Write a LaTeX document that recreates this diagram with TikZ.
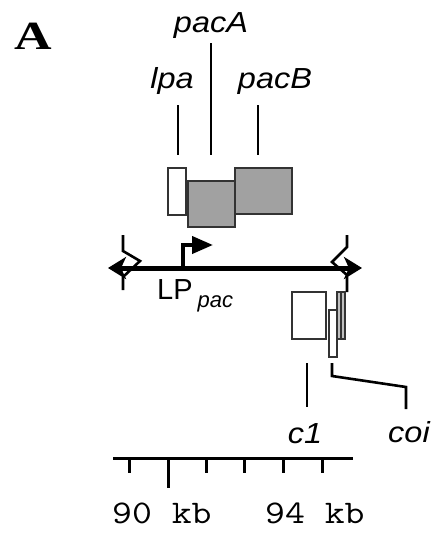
\documentclass[tikz,border=0pt]{standalone}
\usepackage{fontspec}
\setmainfont{Liberation Sans}
\newfontfamily\timesf{Liberation Serif}
\usetikzlibrary{arrows.meta}
\tikzset{bigtip/.tip={Stealth[length=18pt,width=22pt,inset=5pt]}}
\begin{document}
\begin{tikzpicture}[x=1pt,y=-1pt,
  genebox/.style={draw=black!80, line width=1.6pt, inner sep=0pt, minimum width=#1},
  whitebox/.style={genebox=#1, fill=white},
  graybox/.style={genebox=#1, fill=black!37},
  lightbox/.style={genebox=#1, fill=black!25},
  lead/.style={line width=2.6pt},
  brk/.style={line width=2.6pt, line join=miter},
  lbl/.style={font=\fontsize{29}{30}\selectfont\itshape, inner sep=0pt, anchor=base, xscale=1.12},
  scl/.style={font=\ttfamily\fontsize{33}{34}\selectfont, inner sep=0pt, anchor=base west, xscale=1.17},
]
\useasboundingbox (0,0) rectangle (432,533);

% panel letter
\node[font=\timesf\bfseries\fontsize{40}{42}\selectfont, inner sep=0pt, anchor=base, xscale=1.3] (A) at (33,49) {A};

% gene labels and leaders
\node[lbl] (pacA) at (211,32) {pacA};
\node[lbl] (lpa) at (172,88) {lpa};
\node[lbl] (pacB) at (275,88) {pacB};
\coordinate (pacAt) at (211,43);  \coordinate (pacAb) at (211,155);
\coordinate (lpat) at (178,105);  \coordinate (lpab) at (178,155);
\coordinate (pacBt) at (258,105); \coordinate (pacBb) at (258,155);
\draw[lead] (pacAt) -- (pacAb);
\draw[lead] (lpat) -- (lpab);
\draw[lead] (pacBt) -- (pacBb);

% gene boxes
\node[whitebox=18pt, minimum height=47pt] (lpabox) at (177,191.5) {};
\node[graybox=47pt, minimum height=46pt] (pacAbox) at (211.5,204) {};
\node[graybox=57pt, minimum height=46pt] (pacBbox) at (263.5,191) {};

% break marks
\coordinate (bl1) at (123,235); \coordinate (bl2) at (123,251); \coordinate (bl3) at (140,261);
\coordinate (bl4) at (123,277); \coordinate (bl5) at (123,290);
\draw[brk] (bl1) -- (bl2) -- (bl3) -- (bl4) -- (bl5);
\coordinate (br1) at (347,235); \coordinate (br2) at (347,247); \coordinate (br3) at (332,262);
\coordinate (br4) at (347,275); \coordinate (br5) at (347,292);
\draw[brk] (br1) -- (br2) -- (br3) -- (br4) -- (br5);

% main line
\coordinate (mainL) at (108,268);
\coordinate (mainR) at (362,268);
\draw[line width=5pt, {bigtip}-{bigtip}] (mainL) -- (mainR);

% promoter
\coordinate (p0) at (183,268); \coordinate (p1) at (183,245); \coordinate (p2) at (213,245);
\draw[line width=4pt, -{Triangle[length=21pt,width=17pt]}] (p0) -- (p1) -- (p2);
\node[font=\fontsize{29}{30}\selectfont, inner sep=0pt, anchor=base west] (LP) at (157,299)
  {LP\hspace{5pt}\raisebox{-8pt}{\fontsize{22}{23}\selectfont\itshape pac}};

% right-side boxes
\node[whitebox=34pt, minimum height=47pt] (c1box) at (309,315.5) {};
\node[whitebox=8pt, minimum height=47pt] (coibox) at (333,333.5) {};
\node[lightbox=4pt, minimum height=47pt] (coibox2) at (339,315.5) {};
\node[lightbox=4pt, minimum height=47pt] (coibox3) at (343,315.5) {};

% lower labels and leaders
\coordinate (c1t) at (307,363); \coordinate (c1b) at (307,407);
\draw[lead] (c1t) -- (c1b);
\coordinate (coi1) at (332,363); \coordinate (coi2) at (332,376);
\coordinate (coi3) at (406,387); \coordinate (coi4) at (406,409);
\draw[lead, line join=miter] (coi1) -- (coi2) -- (coi3) -- (coi4);
\node[lbl] (c1) at (305,443) {c1};
\node[lbl] (coi) at (409,442) {coi};

% scale bar
\coordinate (sL) at (113,458); \coordinate (sR) at (353,458);
\draw[line width=3pt] (sL) -- (sR);
\foreach \x in {129,206,244,283,322} {
  \coordinate (t\x) at (\x,458); \coordinate (u\x) at (\x,473);
  \draw[line width=3pt] (t\x) -- (u\x);
}
\coordinate (t168) at (168,458); \coordinate (u168) at (168,488);
\draw[line width=3pt] (t168) -- (u168);
\node[scl] (k90) at (112,523) {90 kb};
\node[scl] (k94) at (265,523) {94 kb};
\end{tikzpicture}
\end{document}
